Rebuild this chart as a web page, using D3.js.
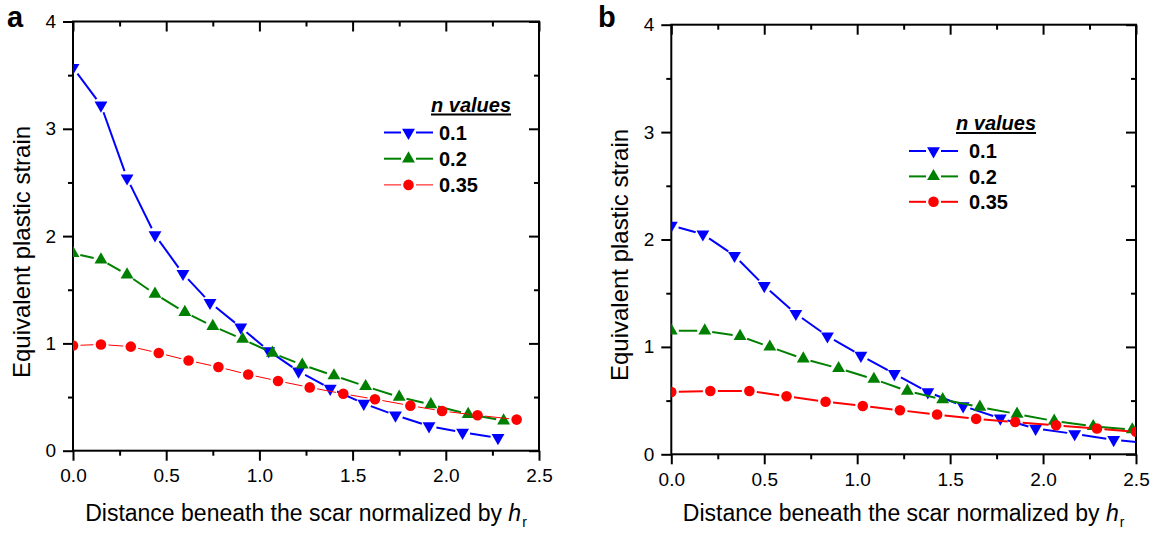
<!DOCTYPE html>
<html>
<head>
<meta charset="utf-8">
<script src="https://cdn.jsdelivr.net/npm/d3@7"></script>
<style>
  body { margin: 0; background: #fff; }
  text { font-family: "Liberation Sans", Arial, Helvetica, sans-serif; fill: #000; }
</style>
</head>
<body>
<svg id="chart" width="1160" height="536"></svg>
<script>
// Panel a: distance (normalized by h_r) and equivalent plastic strain
const aDist01 = [0, 0.15, 0.29, 0.44, 0.59, 0.735, 0.90, 1.05, 1.21, 1.38, 1.56, 1.73, 1.91, 2.09, 2.28];
const aStrain01 = [3.57, 3.22, 2.54, 2.01, 1.65, 1.38, 1.15, 0.93, 0.74, 0.58, 0.44, 0.33, 0.23, 0.17, 0.12];
const aDist02 = [0, 0.15, 0.29, 0.44, 0.60, 0.75, 0.91, 1.07, 1.23, 1.40, 1.57, 1.75, 1.92, 2.12, 2.31];
const aStrain02 = [1.84, 1.78, 1.64, 1.46, 1.29, 1.16, 1.04, 0.91, 0.80, 0.70, 0.60, 0.50, 0.43, 0.34, 0.28];
const aDist035 = [0, 0.15, 0.31, 0.46, 0.62, 0.78, 0.94, 1.10, 1.27, 1.45, 1.62, 1.81, 1.98, 2.17, 2.38];
const aStrain035 = [0.98, 0.99, 0.97, 0.91, 0.84, 0.78, 0.71, 0.65, 0.59, 0.53, 0.48, 0.42, 0.37, 0.33, 0.29];

// Panel b
const bDist01 = [0, 0.17, 0.34, 0.50, 0.67, 0.84, 1.02, 1.20, 1.38, 1.57, 1.77, 1.96, 2.17, 2.38, 2.59];
const bStrain01 = [2.13, 2.05, 1.85, 1.57, 1.31, 1.10, 0.92, 0.75, 0.58, 0.45, 0.335, 0.24, 0.19, 0.135, 0.10];
const bDist02 = [0, 0.18, 0.37, 0.53, 0.71, 0.90, 1.09, 1.27, 1.46, 1.66, 1.86, 2.06, 2.27, 2.48];
const bStrain02 = [1.15, 1.15, 1.10, 1.00, 0.89, 0.80, 0.70, 0.59, 0.51, 0.44, 0.375, 0.31, 0.26, 0.23];
const bDist035 = [0, 0.21, 0.42, 0.62, 0.83, 1.03, 1.23, 1.43, 1.64, 1.85, 2.07, 2.29, 2.50];
const bStrain035 = [0.58, 0.59, 0.59, 0.54, 0.49, 0.45, 0.41, 0.37, 0.33, 0.30, 0.27, 0.24, 0.21];

const nValues = ["0.1", "0.2", "0.35"];
const xTickVals = [0, 0.5, 1, 1.5, 2, 2.5];
const xMinorVals = [0.25, 0.75, 1.25, 1.75, 2.25];
const yTickVals = [0, 1, 2, 3, 4];
const yMinorVals = [0.5, 1.5, 2.5, 3.5];

const svg = d3.select("#chart");

// marker styles per n value
const styles = [
    { color: "#0000ff", shape: "down" },
    { color: "#008000", shape: "up" },
    { color: "#ff0000", shape: "circle" }
];

function markerPath(shape) {
    if (shape === "circle") return d3.symbol(d3.symbolCircle, 88)();
    return d3.symbol(d3.symbolTriangle, 72)();
}

function addMarker(g, shape, color, cx, cy) {
    g.append("path")
        .attr("d", markerPath(shape))
        .attr("fill", color)
        .attr("transform", `translate(${cx},${cy})` + (shape === "down" ? " rotate(180)" : ""));
}

// draw segments with a small gap around each symbol (Origin style)
function gappedSegments(g, pts, color, width, gap) {
    for (let i = 0; i < pts.length - 1; i++) {
        let [x0, y0] = pts[i], [x1, y1] = pts[i + 1];
        let dx = x1 - x0, dy = y1 - y0, L = Math.hypot(dx, dy);
        if (L <= 2 * gap) continue;
        let ux = dx / L, uy = dy / L;
        g.append("line")
            .attr("x1", x0 + ux * gap).attr("y1", y0 + uy * gap)
            .attr("x2", x1 - ux * gap).attr("y2", y1 - uy * gap)
            .attr("stroke", color)
            .attr("stroke-width", width);
    }
}

function drawPanel(p) {
    let x = d3.scaleLinear().domain([0, 2.5]).range([p.left, p.right]);
    let y = d3.scaleLinear().domain([0, 4]).range([p.bottom, p.top]);

    let axisStyle = sel => {
        sel.select(".domain").remove();
        sel.selectAll("line").attr("stroke", "#000").attr("stroke-width", 2);
        sel.selectAll("text").style("font-size", "19px");
    };

    // bottom (outward) with labels
    svg.append("g").attr("transform", `translate(0,${p.bottom})`)
        .call(d3.axisBottom(x).tickValues(xTickVals).tickFormat(d3.format(".1f")).tickSize(10).tickPadding(8))
        .call(axisStyle);
    svg.append("g").attr("transform", `translate(0,${p.bottom})`)
        .call(d3.axisBottom(x).tickValues(xMinorVals).tickFormat("").tickSize(5))
        .call(axisStyle);
    // top (inward)
    svg.append("g").attr("transform", `translate(0,${p.top})`)
        .call(d3.axisBottom(x).tickValues(xTickVals).tickFormat("").tickSize(10))
        .call(axisStyle);
    svg.append("g").attr("transform", `translate(0,${p.top})`)
        .call(d3.axisBottom(x).tickValues(xMinorVals).tickFormat("").tickSize(5))
        .call(axisStyle);
    // left (outward) with labels
    svg.append("g").attr("transform", `translate(${p.left},0)`)
        .call(d3.axisLeft(y).tickValues(yTickVals).tickFormat(d3.format("d")).tickSize(10).tickPadding(7))
        .call(axisStyle);
    svg.append("g").attr("transform", `translate(${p.left},0)`)
        .call(d3.axisLeft(y).tickValues(yMinorVals).tickFormat("").tickSize(5))
        .call(axisStyle);
    // right (inward)
    svg.append("g").attr("transform", `translate(${p.right},0)`)
        .call(d3.axisLeft(y).tickValues(yTickVals).tickFormat("").tickSize(10))
        .call(axisStyle);
    svg.append("g").attr("transform", `translate(${p.right},0)`)
        .call(d3.axisLeft(y).tickValues(yMinorVals).tickFormat("").tickSize(5))
        .call(axisStyle);

    // frame
    svg.append("rect")
        .attr("x", p.left).attr("y", p.top)
        .attr("width", p.right - p.left).attr("height", p.bottom - p.top)
        .attr("fill", "none").attr("stroke", "#000").attr("stroke-width", 2);

    // clip to plot area
    let clipId = "clip-" + p.label;
    svg.append("clipPath").attr("id", clipId)
        .append("rect")
        .attr("x", p.left).attr("y", p.top)
        .attr("width", p.right - p.left).attr("height", p.bottom - p.top);

    let plot = svg.append("g").attr("clip-path", `url(#${clipId})`);

    p.series.forEach((s, i) => {
        let st = styles[i];
        let pts = s.dist.map((d, j) => [x(d), y(s.strain[j])]);
        let g = plot.append("g");
        gappedSegments(g, pts, st.color, s.width, 7.5);
        pts.forEach(pt => addMarker(g, st.shape, st.color, pt[0], pt[1]));
    });

    // panel letter
    svg.append("text")
        .attr("x", p.letterX).attr("y", 27)
        .style("font-size", "29px").style("font-weight", "bold")
        .text(p.label);

    // y title
    svg.append("text")
        .attr("transform", `translate(${p.yTitleX},${p.yTitleY}) rotate(-90)`)
        .attr("text-anchor", "middle")
        .style("font-size", "24px")
        .text("Equivalent plastic strain");

    // x title
    let xt = svg.append("text")
        .attr("x", (p.left + p.right) / 2).attr("y", 521)
        .attr("text-anchor", "middle")
        .style("font-size", "23px");
    xt.append("tspan").text("Distance beneath the scar normalized by ");
    xt.append("tspan").style("font-style", "italic").text("h");
    xt.append("tspan").attr("dy", 6).attr("dx", 1).style("font-size", "14px").text("r");

    // legend
    let lg = svg.append("g").attr("transform", `translate(${p.legX},${p.legY})`);
    let title = lg.append("text")
        .attr("x", p.legTitleDx).attr("y", 0)
        .style("font-size", "20px").style("font-weight", "bold").style("font-style", "italic")
        .text("n values");
    let tw = title.node().getComputedTextLength();
    lg.append("line")
        .attr("x1", p.legTitleDx).attr("x2", p.legTitleDx + tw)
        .attr("y1", 3).attr("y2", 3)
        .attr("stroke", "#000").attr("stroke-width", 2);

    nValues.forEach((n, i) => {
        let st = styles[i];
        let ry = p.legRow0 + i * p.legStep;
        let w = p.series[i].width;
        lg.append("line").attr("x1", 0).attr("x2", 17).attr("y1", ry).attr("y2", ry)
            .attr("stroke", st.color).attr("stroke-width", w);
        lg.append("line").attr("x1", 32).attr("x2", 49).attr("y1", ry).attr("y2", ry)
            .attr("stroke", st.color).attr("stroke-width", w);
        addMarker(lg, st.shape, st.color, 24.5, ry);
        lg.append("text")
            .attr("x", p.legTextDx).attr("y", ry).attr("dy", "0.36em")
            .style("font-size", "20px").style("font-weight", "bold")
            .text(n);
    });
}

drawPanel({
    label: "a", left: 73, right: 539, top: 21.5, bottom: 450.7,
    letterX: 7, yTitleX: 30, yTitleY: 252,
    legX: 384, legY: 111.5, legTitleDx: 47, legRow0: 21, legStep: 26.2, legTextDx: 55,
    series: [
        { dist: aDist01, strain: aStrain01, width: 2 },
        { dist: aDist02, strain: aStrain02, width: 2 },
        { dist: aDist035, strain: aStrain035, width: 1 }
    ]
});

drawPanel({
    label: "b", left: 671.3, right: 1136, top: 24.7, bottom: 454.3,
    letterX: 598, yTitleX: 628, yTitleY: 255,
    legX: 909, legY: 130, legTitleDx: 47, legRow0: 21, legStep: 25.4, legTextDx: 60,
    series: [
        { dist: bDist01, strain: bStrain01, width: 2 },
        { dist: bDist02, strain: bStrain02, width: 2 },
        { dist: bDist035, strain: bStrain035, width: 2 }
    ]
});
</script>
</body>
</html>
